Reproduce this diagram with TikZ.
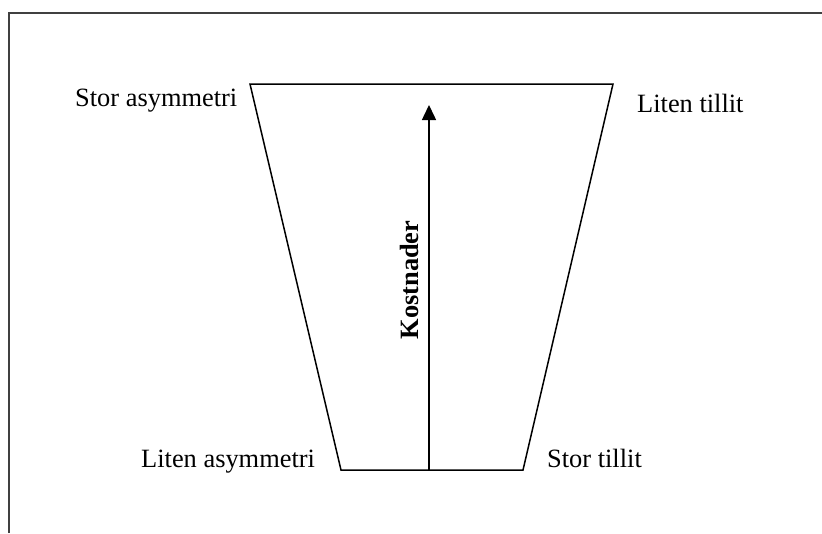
\documentclass[tikz,border=0pt]{standalone}
\usepackage{fontspec}
\setmainfont{Liberation Serif}
\usetikzlibrary{arrows.meta}
\definecolor{framegray}{HTML}{404040}
\begin{document}
\begin{tikzpicture}[x=1pt,y=-1pt,
  lbl/.style={anchor=base west,inner sep=0pt,font=\fontsize{26.4}{30}\selectfont},
  edge/.style={line width=1.5pt,black},
  framestyle/.style={line width=2.2pt,framegray}]
\useasboundingbox (0,0) rectangle (822,533);
\draw[framestyle] (9,533) -- (9,13) -- (822,13);
\coordinate (tl) at (250,84);
\coordinate (tr) at (613,84);
\coordinate (br) at (523,470);
\coordinate (bl) at (341,470);
\draw[edge,line join=miter] (tl) -- (tr) -- (br) -- (bl) -- cycle;
\coordinate (abot) at (429,470);
\coordinate (atop) at (429,105);
\draw[edge,-{Triangle[width=14pt,length=15pt]}] (abot) -- (atop);
\node[lbl] (sa) at (75,106) {Stor asymmetri};
\node[lbl] (lt) at (637,112) {Liten tillit};
\node[lbl] (la) at (141,467) {Liten asymmetri};
\node[lbl] (st) at (547,467) {Stor tillit};
\node[inner sep=0pt,font=\fontsize{26.4}{30}\selectfont\bfseries,rotate=90,anchor=base] (k) at (418,280) {Kostnader};
\end{tikzpicture}
\end{document}
